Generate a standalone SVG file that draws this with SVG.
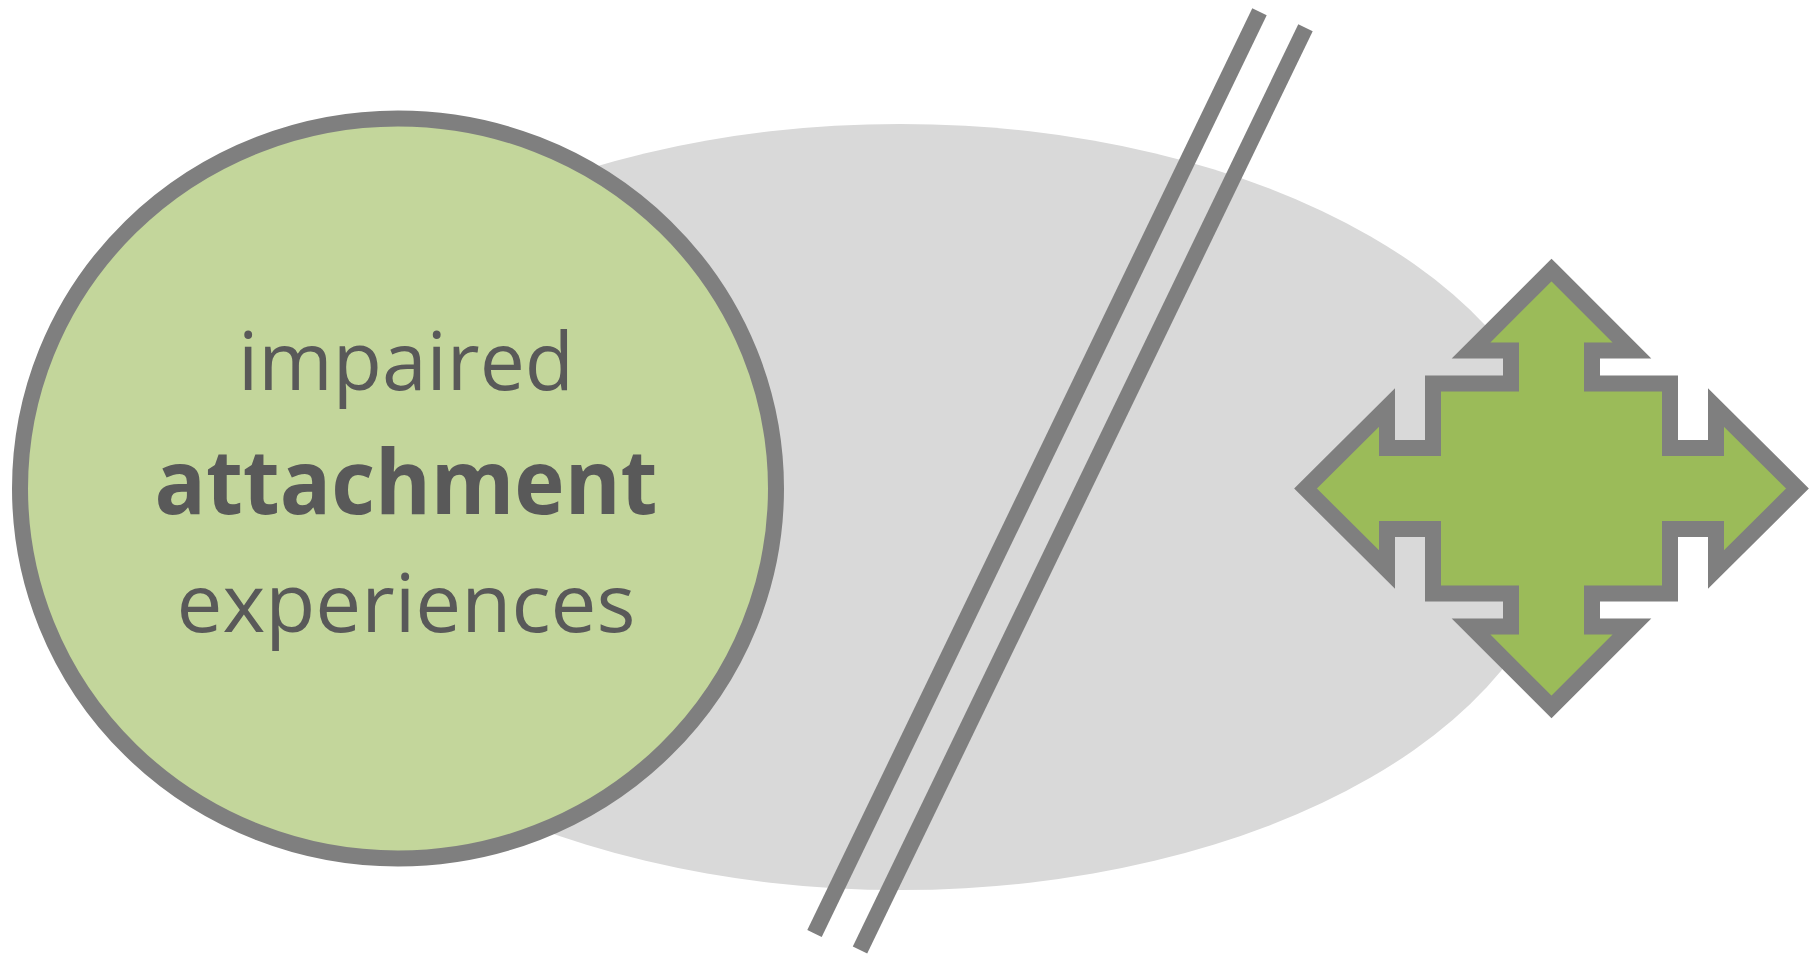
<svg xmlns="http://www.w3.org/2000/svg" width="1817" height="956" viewBox="0 0 1817 956">
  <style>
    .outline { stroke: #7f7f7f; stroke-width: 16; }
    .label { font-family: "Open Sans", "Liberation Sans", sans-serif; fill: #595959; text-anchor: middle; }
    .light { font-weight: 400; font-size: 80px; }
    .heavy { font-weight: 700; font-size: 90px; }
  </style>
  <rect width="1817" height="956" fill="#ffffff"/>

  <!-- background field -->
  <g id="field">
    <ellipse cx="900" cy="507" rx="665" ry="383" fill="#d9d9d9"/>
  </g>

  <!-- left circle with caption -->
  <g id="experiences">
    <ellipse cx="398" cy="488.5" rx="378" ry="370" fill="#c3d69b" class="outline" stroke-width="15"/>
    <text class="label light" x="406" y="389.5" textLength="336" lengthAdjust="spacingAndGlyphs">impaired</text>
    <text class="label heavy" x="406" y="514" textLength="503" lengthAdjust="spacingAndGlyphs">attachment</text>
    <text class="label light" x="406" y="632" textLength="459" lengthAdjust="spacingAndGlyphs">experiences</text>
  </g>

  <!-- double slash break marks -->
  <g id="connectors" fill="none">
    <line class="outline" x1="1259.5" y1="11.7" x2="814.5" y2="933.5"/>
    <line class="outline" x1="1305.5" y1="27.7" x2="860" y2="950"/>
  </g>

  <!-- four-way arrow -->
  <g id="four-way-arrow">
    <polygon class="outline" fill="#9bbb59" stroke-miterlimit="10"
      points="1551.5,270 1632,350.5 1592,350.5 1592,383.5 1670,383.5 1670,448 1716,448 1716,407.5 1797.5,488.5 1716,569.5 1716,529 1670,529 1670,593.5 1592,593.5 1592,626.5 1632,626.5 1551.5,707 1471,626.5 1511,626.5 1511,593.5 1433,593.5 1433,529 1387,529 1387,569.5 1305.5,488.5 1387,407.5 1387,448 1433,448 1433,383.5 1511,383.5 1511,350.5 1471,350.5"/>
  </g>
</svg>
